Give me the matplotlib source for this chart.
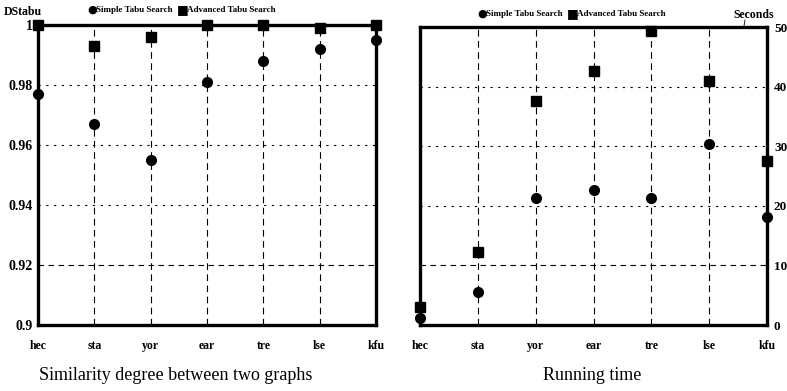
import matplotlib.pyplot as plt
import numpy as np

# benchmark instances
categories = ['hec', 'sta', 'yor', 'ear', 'tre', 'lse', 'kfu']

# similarity degree (DStabu)
sim_simple = [0.977, 0.967, 0.955, 0.981, 0.988, 0.992, 0.995]
sim_advanced = [1.000, 0.993, 0.996, 1.000, 1.000, 0.999, 1.000]

# running time (seconds)
time_simple = [1.2, 5.5, 21.3, 22.6, 21.3, 30.4, 18.1]
time_advanced = [3.0, 12.2, 37.6, 42.6, 49.3, 40.9, 27.5]

sim_ticks = [0.9, 0.92, 0.94, 0.96, 0.98, 1.0]
sim_ticklabels = ['0.9', '0.92', '0.94', '0.96', '0.98', '1']
time_ticks = [0, 10, 20, 30, 40, 50]

SERIF = 'Liberation Serif'
plt.rcParams['font.family'] = SERIF

fig = plt.figure(figsize=(7.87, 3.91), dpi=100)
ax1 = fig.add_axes([38/787, 1-325/391, 338/787, 300/391])
ax2 = fig.add_axes([420/787, 1-325/391, 347/787, 298/391])

x = np.arange(len(categories))


def style_axis(ax, yticks, ylim):
    ax.set_xlim(0, len(categories) - 1)
    ax.set_ylim(*ylim)
    ax.set_xticks(x)
    ax.set_xticklabels(categories, fontsize=8.5, fontweight='bold')
    ax.set_yticks(yticks)
    ax.tick_params(length=0, pad=4)
    ax.tick_params(axis='x', pad=11)
    for s in ax.spines.values():
        s.set_linewidth(2.4)
    # vertical dashed lines at categories
    for xi in x[1:-1]:
        ax.axvline(xi, color='black', lw=0.8, ls=(0, (6, 4)), zorder=1)
    # horizontal grid
    for i, yv in enumerate(yticks[1:-1]):
        ls = (0, (5, 4)) if i == 0 else (0, (2, 5))
        ax.axhline(yv, color='black', lw=0.8, ls=ls, zorder=1)


style_axis(ax1, sim_ticks, (0.9, 1.0))
ax1.set_yticklabels(sim_ticklabels, fontsize=10, fontweight='bold')
ax1.plot(x, sim_simple, 'o', color='black', ms=7, clip_on=False, zorder=5)
ax1.plot(x, sim_advanced, 's', color='black', ms=7, clip_on=False, zorder=5)

style_axis(ax2, time_ticks, (0, 50))
ax2.yaxis.tick_right()
ax2.tick_params(axis='y', pad=5)
ax2.set_yticklabels([str(t) for t in time_ticks], fontsize=9.5, fontweight='bold')
ax2.plot(x, time_simple, 'o', color='black', ms=7, clip_on=False, zorder=5)
ax2.plot(x, time_advanced, 's', color='black', ms=7, clip_on=False, zorder=5)

# axis captions
fig.text(4/787, 1-12/391, 'DStabu', fontsize=8.5, fontweight='bold', va='center')
fig.text(733/787, 1-15/391, 'Seconds', fontsize=8.5, fontweight='bold', va='center')
fig.add_artist(plt.Line2D([745/787, 744/787], [1-20/391, 1-26/391], color='black', lw=0.6))


def legend_at(xl, yl):
    fig.text(xl, yl, '\u25cf', fontsize=8, va='center', family=['DejaVu Sans'])
    fig.text(xl + 9/787, yl, 'Simple Tabu Search', fontsize=6.5, fontweight='bold', va='center')
    fig.text(xl + 90/787, yl, '\u25a0', fontsize=9, va='center', family=['DejaVu Sans'])
    fig.text(xl + 100/787, yl, 'Advanced Tabu Search', fontsize=6.5, fontweight='bold', va='center')


legend_at(87/787, 1-10/391)
legend_at(477/787, 1-14/391)

# panel titles
fig.text(176/787, 1-376/391, 'Similarity degree between two graphs', fontsize=13, ha='center', va='center')
fig.text(592/787, 1-376/391, 'Running time', fontsize=13, ha='center', va='center')

fig.savefig('out.png', dpi=100)
